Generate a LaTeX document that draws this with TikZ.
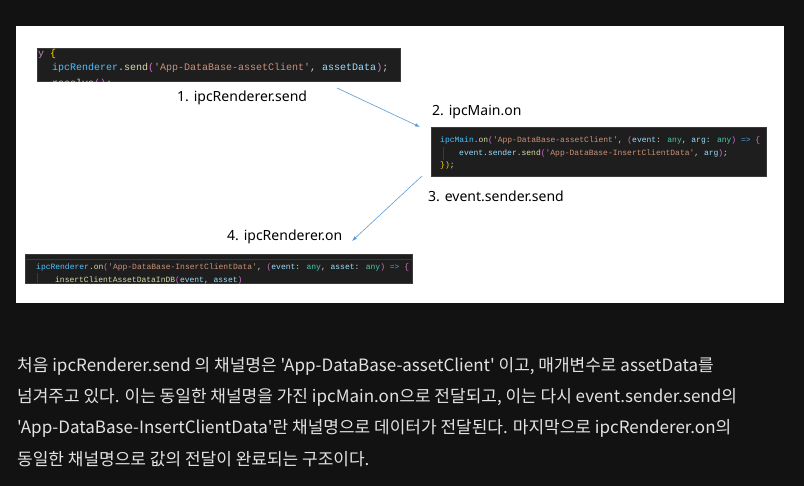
\documentclass[tikz,border=0pt]{standalone}
\usepackage{fontspec}
\usepackage{xcolor}
\usetikzlibrary{arrows.meta}
\setmainfont{Noto Sans}
\newfontfamily\codefont{Liberation Mono}[Ligatures=TeXOff]
\newfontfamily\krfont{Noto Sans CJK KR}[Ligatures=TeXOff]

\definecolor{pagebg}{HTML}{121212}
\definecolor{codebg}{HTML}{1E1E1E}
\definecolor{codeedge}{HTML}{3A3A3A}
\definecolor{kvar}{HTML}{4FC1FF}
\definecolor{lvar}{HTML}{9CDCFE}
\definecolor{func}{HTML}{DCDCAA}
\definecolor{strg}{HTML}{CE9178}
\definecolor{kwd}{HTML}{C586C0}
\definecolor{typ}{HTML}{4EC9B0}
\definecolor{oper}{HTML}{569CD6}
\definecolor{brc}{HTML}{FFD700}
\definecolor{par}{HTML}{DA70D6}
\definecolor{punc}{HTML}{D4D4D4}
\definecolor{flowblue}{HTML}{5B9BD5}
\definecolor{bodytext}{HTML}{E3E3E3}

\newcommand\cK[1]{\textcolor{kvar}{#1}}
\newcommand\cL[1]{\textcolor{lvar}{#1}}
\newcommand\cF[1]{\textcolor{func}{#1}}
\newcommand\cS[1]{\textcolor{strg}{#1}}
\newcommand\cT[1]{\textcolor{typ}{#1}}
\newcommand\cO[1]{\textcolor{oper}{#1}}
\newcommand\cB[1]{\textcolor{brc}{#1}}
\newcommand\cP[1]{\textcolor{par}{#1}}

\begin{document}
\begin{tikzpicture}[x=1pt,y=-1pt,
    codebox/.style={fill=codebg, draw=codeedge, line width=0.6pt, inner sep=0pt, anchor=north west},
    codeline/.style={anchor=base west, inner sep=0pt, text=punc, font=\codefont\fontsize{8}{9}\selectfont},
    bigcode/.style={codeline, font=\codefont\fontsize{10}{12}\selectfont},
    steplabel/.style={anchor=base west, inner sep=0pt, text=black, font=\fontsize{14}{16}\selectfont},
    bodyline/.style={anchor=base west, inner sep=0pt, text=bodytext, font=\krfont\fontsize{17}{20}\selectfont},
    flow/.style={draw=flowblue, line width=0.6pt, -{Latex[length=5pt,width=3.5pt]}}]
  \useasboundingbox (0,0) rectangle (804,486);
  \fill[pagebg] (0,0) rectangle (804,486);
  \fill[white] (16,26) rectangle (784,303);

  % code boxes
  \node[codebox, minimum width=363, minimum height=33] (sendbox) at (37,48) {};
  \node[codebox, minimum width=335, minimum height=49] (mainbox) at (431,127) {};
  \node[codebox, minimum width=387, minimum height=29] (onbox) at (25,254) {};

  \begin{scope}
    \clip (sendbox.north west) rectangle (sendbox.south east);
    \node[bigcode] (send1) at (26,57) {\textcolor{kwd}{try} \cB{\{}};
    \node[bigcode] (send2) at (52,71) {\cK{ipcRenderer}.\cF{send}\cP{(}\cS{'App-DataBase-assetClient'}, \cL{assetData}\cP{)};};
    \node[bigcode] (send3) at (52,87) {\cF{resolve}\cP{()};};
  \end{scope}

  \draw[codeedge, line width=0.5pt] (443,147) -- (443,160);
  \node[codeline] (main1) at (440,143) {\cK{ipcMain}.\cF{on}\cP{(}\cS{'App-DataBase-assetClient'}, \cP{(}\cL{event}: \cT{any}, \cL{arg}: \cT{any}\cP{)} \cO{=>} \cP{\{}};
  \node[codeline] (main2) at (459,156) {\cL{event}.\cL{sender}.\cF{send}\cP{(}\cS{'App-DataBase-InsertClientData'}, \cL{arg}\cP{)};};
  \node[codeline] (main3) at (440,168) {\cB{\})};};

  \begin{scope}
    \clip (onbox.north west) rectangle (onbox.south east);
    \draw[codeedge, line width=0.5pt] (25,259) -- (412,259);
    \draw[codeedge, line width=0.5pt] (37,273) -- (37,284);
    \node[codeline] (on1) at (36,270) {\cK{ipcRenderer}.\cF{on}\cP{(}\cS{'App-DataBase-InsertClientData'}, \cP{(}\cL{event}: \cT{any}, \cL{asset}: \cT{any}\cP{)} \cO{=>} \cP{\{}};
    \node[codeline] (on2) at (55,283) {\cF{insertClientAssetDataInDB}\cP{(}\cL{event}, \cL{asset}\cP{)}};
  \end{scope}

  % step labels
  \node[steplabel] (step1) at (177,102) {1. ipcRenderer.send};
  \node[steplabel] (step2) at (432,116) {2. ipcMain.on};
  \node[steplabel] (step3) at (428,202) {3. event.sender.send};
  \node[steplabel] (step4) at (227,241) {4. ipcRenderer.on};

  % arrows
  \coordinate (flow1s) at (337,88);
  \coordinate (flow1e) at (420,127);
  \coordinate (flow2s) at (422,176);
  \coordinate (flow2e) at (352,241);
  \draw[flow] (flow1s) -- (flow1e);
  \draw[flow] (flow2s) -- (flow2e);

  % explanation text
  \node[bodyline] (para1) at (17,372) {처음 ipcRenderer.send 의 채널명은 'App-DataBase-assetClient' 이고, 매개변수로 assetData를};
  \node[bodyline] (para2) at (17,403) {넘겨주고 있다. 이는 동일한 채널명을 가진 ipcMain.on으로 전달되고, 이는 다시 event.sender.send의};
  \node[bodyline] (para3) at (17,434) {'App-DataBase-InsertClientData'란 채널명으로 데이터가 전달된다. 마지막으로 ipcRenderer.on의};
  \node[bodyline] (para4) at (17,465) {동일한 채널명으로 값의 전달이 완료되는 구조이다.};
\end{tikzpicture}
\end{document}
